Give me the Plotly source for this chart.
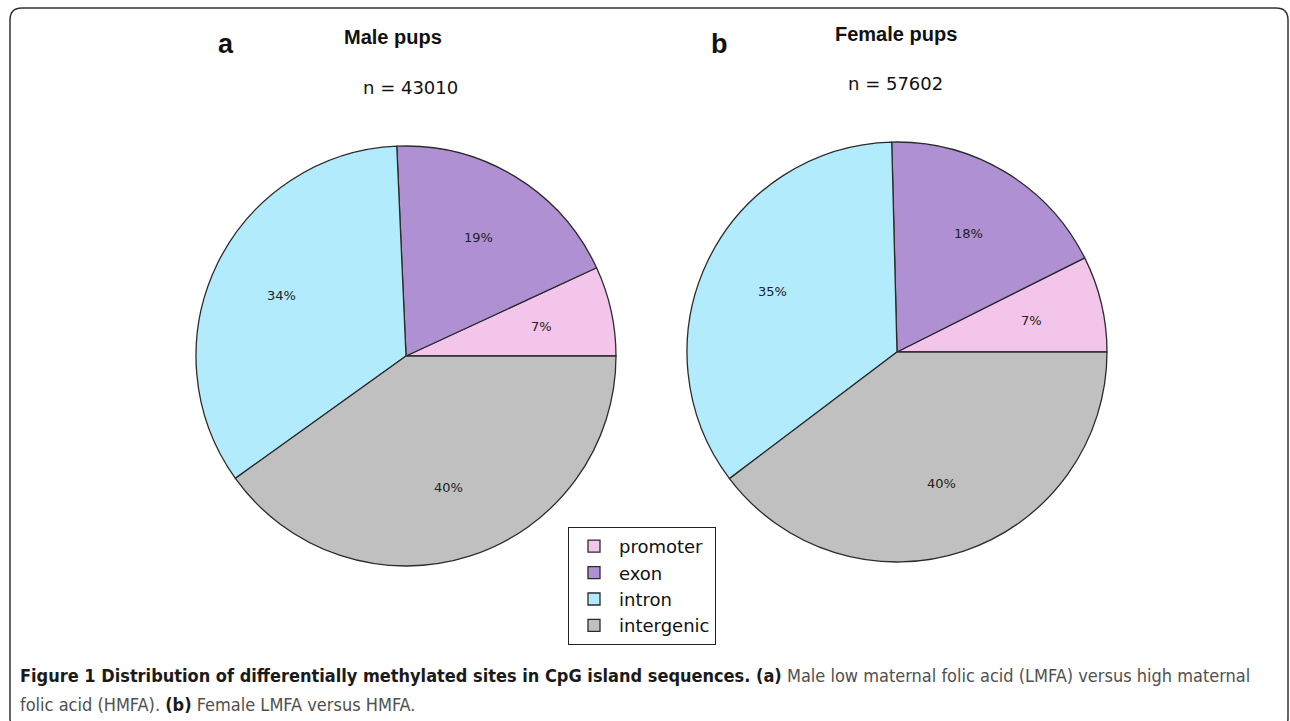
import math
import plotly.graph_objects as go

# Genomic region categories for differentially methylated CpG sites
regions = ["promoter", "exon", "intron", "intergenic"]
colors = ["#F3C5EA", "#AF90D3", "#B2EBFC", "#C0C0C0"]

# Share of sites (%) per region
male_share = [6.9, 18.8, 34.2, 40.1]
female_share = [7.4, 18.0, 34.9, 39.7]

male_n = 43010
female_n = 57602

W, H = 1290, 721
R = 210  # pie radius in px
LABEL_R = 0.66  # percentage labels sit at this fraction of the radius


def px_x(x):
    return x / W


def px_y(y):
    return (H - y) / H


def pie_domain(cx, cy):
    return dict(
        x=[(cx - R) / W, (cx + R) / W],
        y=[(H - cy - R) / H, (H - cy + R) / H],
    )


def make_pie(values, domain, show_legend):
    # counterclockwise pies end their first slice at the rotation angle,
    # so shift so the first slice begins at 3 o'clock
    first_deg = 360.0 * values[0] / sum(values)
    return go.Pie(
        labels=regions,
        values=values,
        sort=False,
        direction="counterclockwise",
        rotation=90 - first_deg,
        marker=dict(colors=colors, line=dict(color="#2b2b2b", width=1.3)),
        textinfo="none",
        domain=domain,
        showlegend=show_legend,
        hoverinfo="label+percent",
    )


def pct_labels(values, cx, cy):
    # percentage text placed along each slice's bisector (slices run CCW from 3 o'clock)
    total = sum(values)
    out = []
    start = 0.0
    for v in values:
        mid = 2 * math.pi * (start + v / 2) / total
        start += v
        x = cx + LABEL_R * R * math.cos(mid)
        y = cy - LABEL_R * R * math.sin(mid)
        out.append(dict(
            text=f"{round(100 * v / total)}%", x=px_x(x), y=px_y(y),
            font=dict(family="DejaVu Sans", size=13, color="#222222"),
        ))
    return out


fig = go.Figure()
fig.add_trace(make_pie(male_share, pie_domain(406, 356), True))
fig.add_trace(make_pie(female_share, pie_domain(897, 352), False))

CAP_FONT = "DejaVu Sans Condensed, Liberation Sans Narrow, Roboto Condensed, Roboto, sans-serif"

annotations = [
    dict(text="<b>a</b>", x=px_x(226), y=px_y(44), font=dict(family="Liberation Sans", size=27, color="#111")),
    dict(text="<b>Male pups</b>", x=px_x(393), y=px_y(37), font=dict(family="Liberation Sans", size=20, color="#111")),
    dict(text=f"n = {male_n}", x=px_x(410), y=px_y(88), font=dict(family="DejaVu Sans", size=18, color="#111")),
    dict(text="<b>b</b>", x=px_x(719), y=px_y(44), font=dict(family="Liberation Sans", size=27, color="#111")),
    dict(text="<b>Female pups</b>", x=px_x(896), y=px_y(34), font=dict(family="Liberation Sans", size=20, color="#111")),
    dict(text=f"n = {female_n}", x=px_x(895), y=px_y(84), font=dict(family="DejaVu Sans", size=18, color="#111")),
    dict(
        text="<b>Figure 1 Distribution of differentially methylated sites in CpG island sequences. (a)</b>"
             "<span style='color:#505050'> Male low maternal folic acid (LMFA) versus high maternal</span>",
        x=px_x(18), y=px_y(675), xanchor="left",
        font=dict(family=CAP_FONT, size=18, color="#1a1a1a"),
    ),
    dict(
        text="<span style='color:#505050'>folic acid (HMFA). </span><b>(b)</b>"
             "<span style='color:#505050'> Female LMFA versus HMFA.</span>",
        x=px_x(18), y=px_y(704), xanchor="left",
        font=dict(family=CAP_FONT, size=18, color="#1a1a1a"),
    ),
]
annotations += pct_labels(male_share, 406, 356)
annotations += pct_labels(female_share, 897, 352)
for a in annotations:
    a.setdefault("xanchor", "center")
    a.update(xref="paper", yref="paper", yanchor="middle", showarrow=False)

# Rounded frame around the figure panel
x0, y0, x1, y1, r = 10, 8, 1288, 730, 12
frame = (
    f"M {x0 + r},{H - y0} L {x1 - r},{H - y0} Q {x1},{H - y0} {x1},{H - y0 - r} "
    f"L {x1},{H - y1 + r} Q {x1},{H - y1} {x1 - r},{H - y1} "
    f"L {x0 + r},{H - y1} Q {x0},{H - y1} {x0},{H - y1 + r} "
    f"L {x0},{H - y0 - r} Q {x0},{H - y0} {x0 + r},{H - y0} Z"
)

fig.update_layout(
    width=W,
    height=H,
    margin=dict(l=0, r=0, t=0, b=0),
    paper_bgcolor="white",
    plot_bgcolor="white",
    annotations=annotations,
    xaxis=dict(range=[0, W], visible=False, fixedrange=True, domain=[0, 1]),
    yaxis=dict(range=[0, H], visible=False, fixedrange=True, domain=[0, 1]),
    shapes=[dict(type="path", path=frame, xref="x", yref="y",
                 line=dict(color="#333333", width=1.5), layer="above")],
    legend=dict(
        x=px_x(568), y=px_y(527), xanchor="left", yanchor="top",
        bordercolor="#222", borderwidth=1, bgcolor="white",
        font=dict(family="DejaVu Sans", size=18, color="#111"),
        itemwidth=40,
    ),
)

fig.write_html("out.html")
